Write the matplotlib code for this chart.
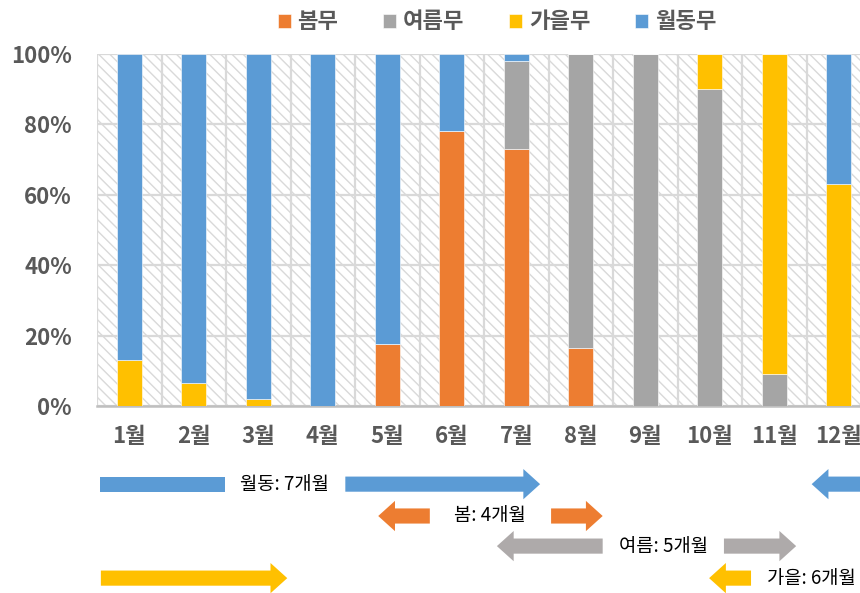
import matplotlib
matplotlib.use('Agg')
import matplotlib.pyplot as plt
import matplotlib.patches as mpatches
import matplotlib.transforms as mtransforms
import numpy as np

plt.rcParams['font.family'] = ['Noto Sans CJK KR', 'DejaVu Sans']
plt.rcParams['hatch.color'] = '#D9D9D9'
plt.rcParams['hatch.linewidth'] = 1.0

months = ['1월', '2월', '3월', '4월', '5월', '6월', '7월', '8월', '9월', '10월', '11월', '12월']
spring = [0, 0, 0, 0, 17.5, 78, 73, 16.5, 0, 0, 0, 0]       # 봄무
summer = [0, 0, 0, 0, 0, 0, 25, 83.5, 100, 90, 9, 0]        # 여름무
autumn = [13, 6.5, 2, 0, 0, 0, 0, 0, 0, 10, 91, 63]         # 가을무
winter = [87, 93.5, 98, 100, 82.5, 22, 2, 0, 0, 0, 0, 37]   # 월동무
names = ['봄무', '여름무', '가을무', '월동무']
colors = ['#ED7D31', '#A5A5A5', '#FFC000', '#5B9BD5']

# season arrows: label, colour, row, label x, segments (tail, tip, has head)
season_arrows = [
    ('월동: 7개월', '#5B9BD5', 0, 2.41, [(-0.45, 1.48, False), (3.35, 6.37, True), (11.9, 10.58, True)]),
    ('봄: 4개월', '#ED7D31', 1, 5.59, [(4.66, 3.86, True), (6.54, 7.34, True)]),
    ('여름: 5개월', '#AEAAAA', 2, 8.28, [(7.34, 5.70, True), (9.22, 10.34, True)]),
    ('가을: 6개월', '#FFC000', 3, 10.57, [(-0.44, 2.45, True), (9.64, 8.99, True)]),
]
row_y = [-0.222, -0.3125, -0.398, -0.489]

fig = plt.figure(figsize=(8.6, 5.93), dpi=100)
ax = fig.add_axes([97 / 860, 187 / 593, 774 / 860, 352 / 593])

x = np.arange(len(months))
bottom = np.zeros(len(months))
for vals, name, c in zip([spring, summer, autumn, winter], names, colors):
    ax.bar(x, vals, width=0.39, bottom=bottom, color=c, label=name,
           edgecolor='white', linewidth=0.4, zorder=3)
    bottom += np.array(vals)

# hatched background
bg = mpatches.Rectangle((0, 0), 1, 1, transform=ax.transAxes, facecolor='white',
                        edgecolor='#D9D9D9', hatch='\\\\\\', linewidth=0, zorder=0)
ax.add_patch(bg)
ax.patch.set_visible(False)

ax.set_xlim(-0.5, 11.5)
ax.set_ylim(0, 100)
ax.set_yticks([0, 20, 40, 60, 80, 100])
ax.set_yticklabels(['0%', '20%', '40%', '60%', '80%', '100%'])
ax.set_xticks(x)
ax.set_xticklabels(months)
ax.set_xticks(np.arange(-0.5, 12, 1), minor=True)
ax.grid(axis='y', color='#D9D9D9', linewidth=1.6, zorder=1)
ax.grid(axis='x', which='minor', color='#D9D9D9', linewidth=1.6, zorder=1)
ax.set_axisbelow(True)
ax.tick_params(axis='both', which='both', length=0)
ax.tick_params(axis='x', pad=14, labelsize=16, labelcolor='#595959')
ax.tick_params(axis='y', pad=18, labelsize=16, labelcolor='#595959')
for lbl in ax.get_xticklabels() + ax.get_yticklabels():
    lbl.set_fontweight('bold')
for s in ['top', 'right', 'left']:
    ax.spines[s].set_visible(False)
ax.spines['bottom'].set_color('#BFBFBF')
ax.spines['bottom'].set_linewidth(1.8)

# arrows under the chart
trans = mtransforms.blended_transform_factory(ax.transData, ax.transAxes)
body_h = 0.0215
head_h = 0.043
head_l = 0.26
for label, c, row, tx, segs in season_arrows:
    y = row_y[row]
    for tail, tip, head in segs:
        d = 1 if tip > tail else -1
        if head:
            neck = tip - d * head_l
            verts = [(tail, y - body_h), (neck, y - body_h), (neck, y - head_h), (tip, y),
                     (neck, y + head_h), (neck, y + body_h), (tail, y + body_h)]
        else:
            verts = [(tail, y - body_h), (tip, y - body_h), (tip, y + body_h), (tail, y + body_h)]
        ax.add_patch(mpatches.Polygon(verts, closed=True, facecolor=c, edgecolor='none',
                                      transform=trans, clip_on=False))
    ax.text(tx, y, label, transform=trans, ha='center', va='center', fontsize=13.5, color='black')

leg = fig.legend(loc='center', bbox_to_anchor=(497 / 860, 1 - 22 / 593), ncol=4, frameon=False,
                 handlelength=0.6, handleheight=0.6, handletextpad=0.3, columnspacing=2.0,
                 prop={'size': 16, 'weight': 'bold'})
for t in leg.get_texts():
    t.set_color('#595959')

fig.savefig('out.png', dpi=100)
